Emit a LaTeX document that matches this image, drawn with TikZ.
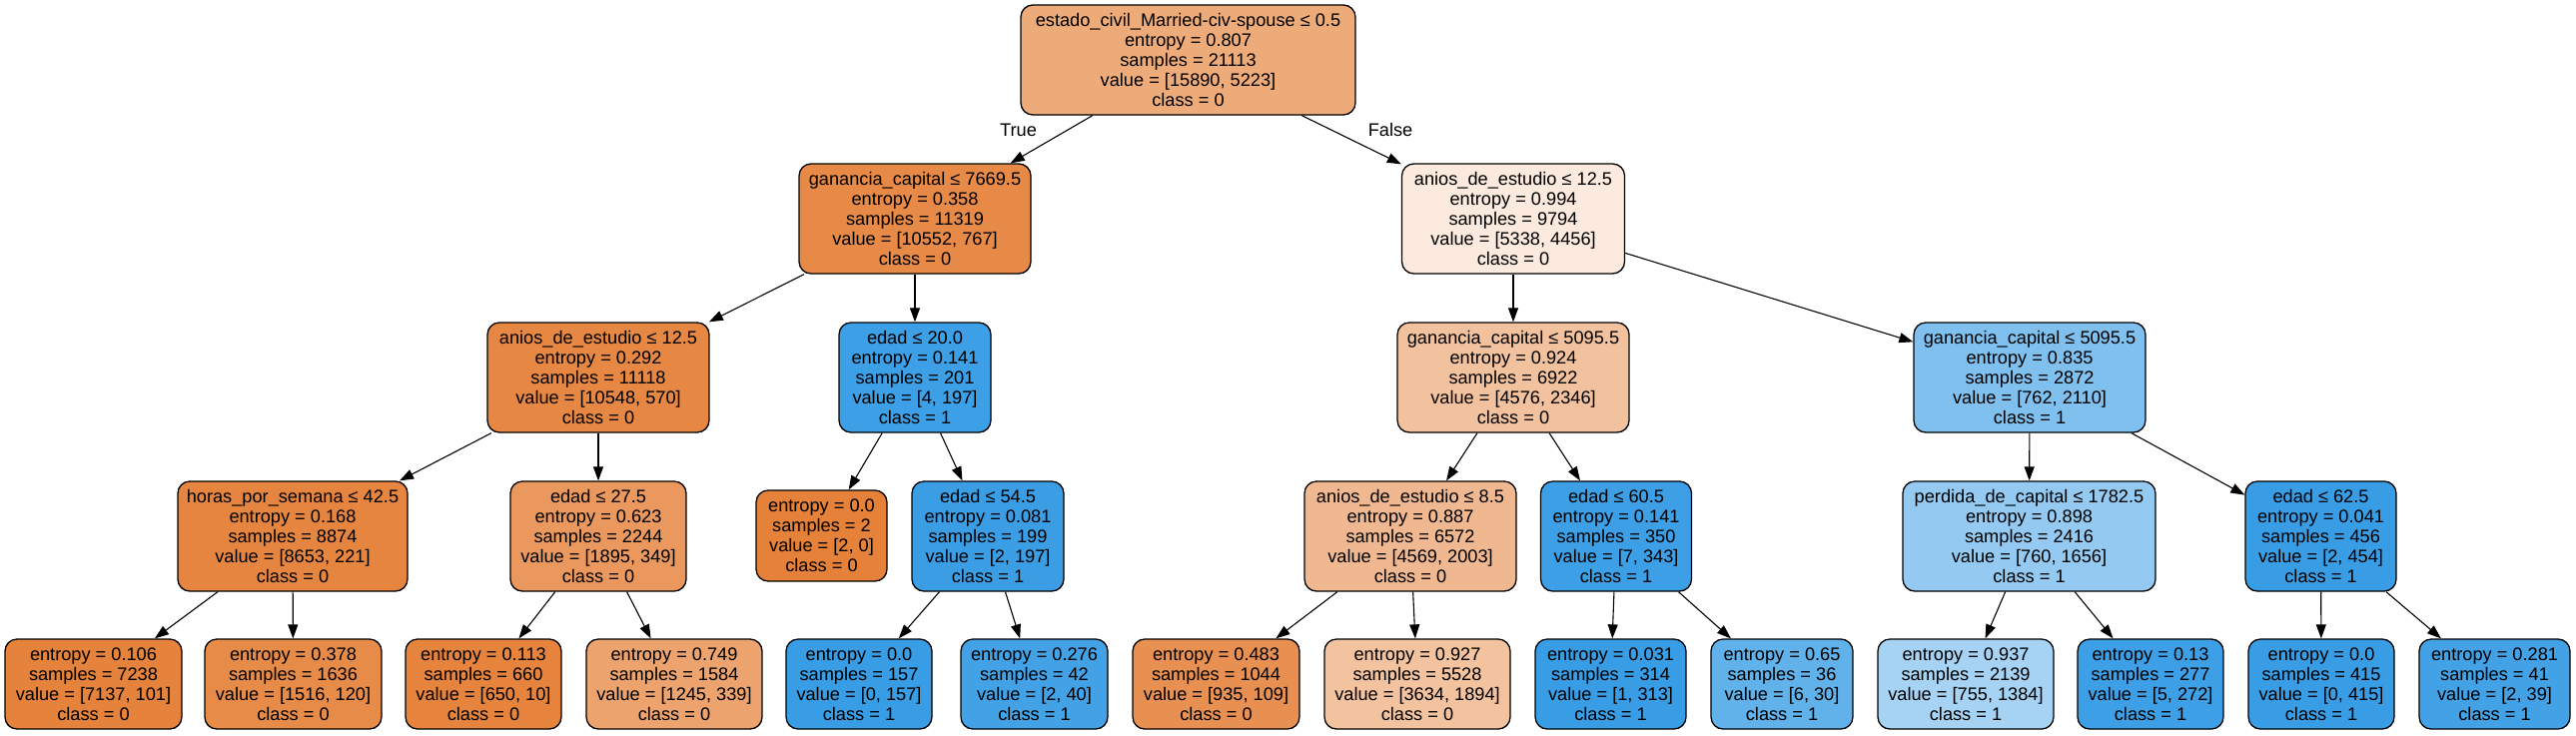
\documentclass[tikz,border=0pt]{standalone}
\usepackage{fontspec}
\setmainfont{Liberation Sans}
\usetikzlibrary{arrows.meta}
\definecolor{cz}{RGB}{229,129,57}
\definecolor{co}{RGB}{57,157,229}
\begin{document}
\begin{tikzpicture}[x=1pt,y=-1pt,
  tbox/.style={draw=black, line width=1.3pt, rounded corners=12pt, align=center,
    inner sep=2pt, minimum height=110pt,
    font=\fontsize{18.2pt}{20pt}\selectfont},
  tleaf/.style={tbox, minimum height=90pt},
  edge/.style={draw=black, line width=1.1pt, -{Triangle[length=14pt,width=10pt]}},
  elab/.style={inner sep=0pt, font=\fontsize{18.2pt}{20pt}\selectfont}]
\useasboundingbox (0,0) rectangle (2579,736);
% level 0
\node[tbox, minimum width=335pt, fill=cz!67!white] (n0) at (1189.5,60) {estado\_civil\_Married-civ-spouse ≤ 0.5\\entropy = 0.807\\samples = 21113\\value = [15890, 5223]\\class = 0};
% level 1
\node[tbox, minimum width=232pt, fill=cz!93!white] (n1) at (916,219) {ganancia\_capital ≤ 7669.5\\entropy = 0.358\\samples = 11319\\value = [10552, 767]\\class = 0};
\node[tbox, minimum width=223pt, fill=cz!17!white] (n8) at (1515,219) {anios\_de\_estudio ≤ 12.5\\entropy = 0.994\\samples = 9794\\value = [5338, 4456]\\class = 0};
% level 2
\node[tbox, minimum width=222pt, fill=cz!95!white] (n2) at (599,378) {anios\_de\_estudio ≤ 12.5\\entropy = 0.292\\samples = 11118\\value = [10548, 570]\\class = 0};
\node[tbox, minimum width=152pt, fill=co!98!white] (n5) at (916,378) {edad ≤ 20.0\\entropy = 0.141\\samples = 201\\value = [4, 197]\\class = 1};
\node[tbox, minimum width=232pt, fill=cz!49!white] (n9) at (1515,378) {ganancia\_capital ≤ 5095.5\\entropy = 0.924\\samples = 6922\\value = [4576, 2346]\\class = 0};
\node[tbox, minimum width=232pt, fill=co!64!white] (n16) at (2032,378) {ganancia\_capital ≤ 5095.5\\entropy = 0.835\\samples = 2872\\value = [762, 2110]\\class = 1};
% level 3
\node[tbox, minimum width=230pt, fill=cz!97!white] (n3) at (293,537) {horas\_por\_semana ≤ 42.5\\entropy = 0.168\\samples = 8874\\value = [8653, 221]\\class = 0};
\node[tbox, minimum width=176pt, fill=cz!82!white] (n4) at (599,537) {edad ≤ 27.5\\entropy = 0.623\\samples = 2244\\value = [1895, 349]\\class = 0};
\node[tleaf, minimum width=131pt, minimum height=91pt, fill=cz] (n6) at (822.5,536.5) {entropy = 0.0\\samples = 2\\value = [2, 0]\\class = 0};
\node[tbox, minimum width=152pt, fill=co!99!white] (n7) at (989,537) {edad ≤ 54.5\\entropy = 0.081\\samples = 199\\value = [2, 197]\\class = 1};
\node[tbox, minimum width=212pt, fill=cz!56!white] (n10) at (1412,537) {anios\_de\_estudio ≤ 8.5\\entropy = 0.887\\samples = 6572\\value = [4569, 2003]\\class = 0};
\node[tbox, minimum width=151pt, fill=co!98!white] (n13) at (1618,537) {edad ≤ 60.5\\entropy = 0.141\\samples = 350\\value = [7, 343]\\class = 1};
\node[tbox, minimum width=253pt, fill=co!54!white] (n17) at (2031.5,537) {perdida\_de\_capital ≤ 1782.5\\entropy = 0.898\\samples = 2416\\value = [760, 1656]\\class = 1};
\node[tbox, minimum width=151pt, fill=co] (n20) at (2323.5,537) {edad ≤ 62.5\\entropy = 0.041\\samples = 456\\value = [2, 454]\\class = 1};
% level 4 leaves
\node[tleaf, minimum width=177pt, fill=cz!99!white] (l1) at (93.5,685) {entropy = 0.106\\samples = 7238\\value = [7137, 101]\\class = 0};
\node[tleaf, minimum width=177pt, fill=cz!92!white] (l2) at (293.5,685) {entropy = 0.378\\samples = 1636\\value = [1516, 120]\\class = 0};
\node[tleaf, minimum width=156pt, fill=cz!98!white] (l3) at (484,685) {entropy = 0.113\\samples = 660\\value = [650, 10]\\class = 0};
\node[tleaf, minimum width=176pt, fill=cz!73!white] (l4) at (675,685) {entropy = 0.749\\samples = 1584\\value = [1245, 339]\\class = 0};
\node[tleaf, minimum width=146pt, fill=co] (l5) at (860,685) {entropy = 0.0\\samples = 157\\value = [0, 157]\\class = 1};
\node[tleaf, minimum width=147pt, fill=co!95!white] (l6) at (1035.5,685) {entropy = 0.276\\samples = 42\\value = [2, 40]\\class = 1};
\node[tleaf, minimum width=167pt, fill=cz!88!white] (l7) at (1217.5,685) {entropy = 0.483\\samples = 1044\\value = [935, 109]\\class = 0};
\node[tleaf, minimum width=186pt, fill=cz!48!white] (l8) at (1419,685) {entropy = 0.927\\samples = 5528\\value = [3634, 1894]\\class = 0};
\node[tleaf, minimum width=151pt, fill=co] (l9) at (1612.5,685) {entropy = 0.031\\samples = 314\\value = [1, 313]\\class = 1};
\node[tleaf, minimum width=142pt, fill=co!80!white] (l10) at (1784,685) {entropy = 0.65\\samples = 36\\value = [6, 30]\\class = 1};
\node[tleaf, minimum width=176pt, fill=co!45!white] (l11) at (1968,685) {entropy = 0.937\\samples = 2139\\value = [755, 1384]\\class = 1};
\node[tleaf, minimum width=146pt, fill=co!98!white] (l12) at (2153,685) {entropy = 0.13\\samples = 277\\value = [5, 272]\\class = 1};
\node[tleaf, minimum width=146pt, fill=co] (l13) at (2324,685) {entropy = 0.0\\samples = 415\\value = [0, 415]\\class = 1};
\node[tleaf, minimum width=151pt, fill=co!95!white] (l14) at (2497.5,685) {entropy = 0.281\\samples = 41\\value = [2, 39]\\class = 1};
% edge labels
\node[elab] (tl) at (1019.5,130) {True};
\node[elab] (fl) at (1392,130) {False};
% edges
\draw[edge] (n0) -- (n1);
\draw[edge] (n0) -- (n8);
\draw[edge] (n1) -- (n2);
\draw[edge] (n1) -- (n5);
\draw[edge] (n2) -- (n3);
\draw[edge] (n2) -- (n4);
\draw[edge] (n3) -- (l1);
\draw[edge] (n3) -- (l2);
\draw[edge] (n4) -- (l3);
\draw[edge] (n4) -- (l4);
\draw[edge] (n5) -- (n6);
\draw[edge] (n5) -- (n7);
\draw[edge] (n7) -- (l5);
\draw[edge] (n7) -- (l6);
\draw[edge] (n8) -- (n9);
\draw[edge] (n8) -- (n16);
\draw[edge] (n9) -- (n10);
\draw[edge] (n9) -- (n13);
\draw[edge] (n10) -- (l7);
\draw[edge] (n10) -- (l8);
\draw[edge] (n13) -- (l9);
\draw[edge] (n13) -- (l10);
\draw[edge] (n16) -- (n17);
\draw[edge] (n16) -- (n20);
\draw[edge] (n17) -- (l11);
\draw[edge] (n17) -- (l12);
\draw[edge] (n20) -- (l13);
\draw[edge] (n20) -- (l14);
\end{tikzpicture}
\end{document}
